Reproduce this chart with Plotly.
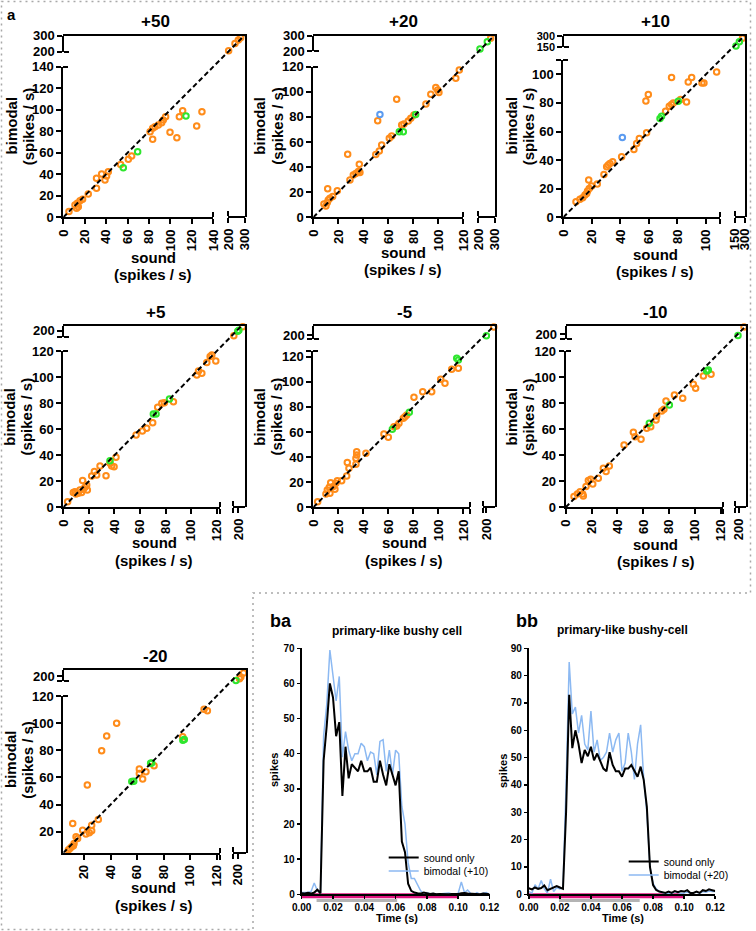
import plotly.graph_objects as go

W, H = 756, 931
FONT = "Liberation Sans, Arial, Helvetica, sans-serif"
ORANGE = "#FF8C1A"
GREEN = "#2EE62E"
BLUE = "#5B9BF0"
LIGHT_BLUE = "#8CB9F2"
MAGENTA = "#E0147F"
GREY_BAR = "#B4B4B4"

# ---------------- data: panel a (sound vs bimodal, spikes / s) ----------------
P50_ORANGE_X = [5.3, 10.9, 13, 15.6, 18, 14, 12.4, 23.3, 31, 31, 35.8, 38.9, 40.4, 42, 53.5, 60.7, 63.8, 81, 83.4,
                85.6, 88.7, 91.8, 93.3, 95.5, 83.4, 99.6, 106, 111.4, 108.3, 124.5, 129.4, 202, 240, 260, 274]
P50_ORANGE_Y = [5.3, 11.5, 13, 15.5, 16.7, 9.9, 8.4, 21.7, 36.2, 27, 40.3, 34.7, 38.4, 42.4, 49, 53.9, 57, 79.6, 82.7,
                84.2, 85.8, 88, 90.4, 93.5, 72.5, 79, 74, 99.1, 93.5, 84.9, 98.2, 206, 252, 273, 287]
P50_GREEN_X = [56, 69.4, 114.5]
P50_GREEN_Y = [46, 61, 94.1]
P50_BLUE_X = []
P50_BLUE_Y = []

P20_ORANGE_X = [8.5, 10.1, 11.2, 12, 13.3, 15.5, 19.2, 11.5, 27.5, 29.3, 32, 34, 36, 37.3, 36.8, 50, 52.8, 54.7, 60.8,
                62.7, 51.5, 66.7, 70.7, 72.5, 76, 78, 80.5, 90.1, 94, 98, 99.5, 100.5, 114, 116.8, 274]
P20_ORANGE_Y = [10.6, 9, 11.7, 13.8, 15.1, 16.5, 21.2, 22.8, 50.2, 29.7, 33.7, 35, 36.4, 35.6, 42.2, 50, 52.8, 57.6,
                62.9, 64.8, 77, 94, 73.5, 74.3, 76.7, 79, 81.5, 90.3, 98, 103.5, 101.4, 99.5, 110.7, 117.3, 283]
P20_GREEN_X = [68.8, 72, 81.9, 210, 254]
P20_GREEN_Y = [68.2, 68.2, 82, 213, 261]
P20_BLUE_X = [53.3]
P20_BLUE_Y = [82]

P10_ORANGE_X = [8.9, 11.7, 13.6, 15.2, 16.4, 17, 18.2, 17.8, 19.9, 23.8, 28.5, 30.4, 31.5, 32.7, 34.6, 40.9, 49.5, 51.4,
                53.3, 58.4, 57.9, 59.6, 71.7, 74.3, 75.9, 77.1, 82.2, 86.4, 75.9, 87.6, 90, 97.2, 98.6, 107.5, 262]
P10_ORANGE_Y = [10.9, 12.6, 13.7, 15.6, 16.7, 18.4, 20.2, 26, 21.9, 23.3, 30, 35.3, 36.5, 37.7, 38.8, 42.3, 47.4, 51.6,
                55.1, 59.1, 81.4, 85.8, 74.2, 77.7, 78.8, 80, 82.3, 80.7, 97.7, 94.7, 97.7, 94, 94, 101.6, 265]
P10_GREEN_X = [67.8, 68.9, 80.6, 165, 215]
P10_GREEN_Y = [69.1, 70.7, 81.2, 158, 218]
P10_BLUE_X = [41.4]
P10_BLUE_Y = [55.8]

P5_ORANGE_X = [3.4, 7.8, 9.1, 9.9, 11.7, 13, 14.3, 15.7, 17, 18.3, 15.1, 18.8, 22.2, 24.3, 26.1, 28.7, 33.4, 36.5,
               37.8, 39.7, 41.2, 56.9, 61.8, 65.2, 69.9, 73.8, 77, 79, 86.1, 104.4, 105.7, 108.3, 112.2, 114.8, 116.1,
               119.2, 192, 208]
P5_ORANGE_Y = [4.3, 11.3, 12, 10.2, 10.7, 13.3, 11.3, 13.8, 15.4, 17.1, 20.5, 13.3, 24, 27.4, 24.8, 31.7, 24.3, 33.8,
               31.7, 31.2, 38.4, 55.5, 58.6, 60.6, 65, 76.8, 79.8, 80.3, 81.1, 101.6, 104.7, 102.9, 111.1, 115.7, 116.9,
               112.3, 190, 208]
P5_GREEN_X = [36.5, 70.4, 72.5, 83, 199, 201]
P5_GREEN_Y = [35.8, 71.6, 71.6, 83.2, 199, 201]
P5_BLUE_X = []
P5_BLUE_Y = []

M5_ORANGE_X = [3.5, 10.1, 11.2, 12.8, 13.9, 13.3, 16, 18.1, 19.2, 17.3, 22.7, 26.7, 27.2, 28.5, 34.1, 34.7, 34.7, 34.1,
               42.1, 56.5, 60, 64.5, 66.7, 68.5, 72, 73.3, 74.7, 80.5, 87.5, 94.7, 101.9, 105.3, 110.7, 116, 206]
M5_ORANGE_Y = [4.5, 10.6, 13.8, 15.9, 19.6, 11.1, 16.5, 19.1, 21.2, 14.3, 21.2, 25, 35.6, 31.1, 34.2, 44.3, 41.7, 39,
               43, 58.4, 55.7, 64.2, 64.8, 66.9, 70.9, 72.2, 73.5, 87.6, 92.1, 92.1, 101.9, 98.8, 109.9, 110.7, 206]
M5_GREEN_X = [63.2, 76.8, 116, 114.7, 200]
M5_GREEN_Y = [62.1, 75.7, 117.3, 118.7, 199.5]
M5_BLUE_X = []
M5_BLUE_Y = []

M10_ORANGE_X = [6.4, 9, 11.1, 13.1, 13.6, 15.7, 17.5, 19.3, 20.9, 25.2, 29.1, 31.2, 33.7, 45.1, 52.3, 53.6, 58.2, 62.6,
                65.7, 69.8, 70.3, 74.2, 75.9, 77.5, 84, 90.4, 98.6, 100.4, 106.4, 112.3, 205]
M10_ORANGE_Y = [8.2, 10.2, 12, 10.2, 8.7, 15.9, 20.5, 21.5, 17.9, 22.3, 29.9, 27.4, 31.7, 47.9, 57.6, 54.2, 52.2, 60.6,
                61.9, 67, 70.1, 73.9, 75.2, 81.6, 86.2, 83.7, 94.4, 91.4, 100.8, 102.1, 206]
M10_GREEN_X = [64.6, 80.1, 108.9, 110.2, 199]
M10_GREEN_Y = [64.5, 78.6, 104.7, 105.4, 199]
M10_BLUE_X = []
M10_BLUE_Y = []

M20_ORANGE_X = [8.2, 9.4, 10.7, 12, 12.5, 14, 15.2, 11.5, 19, 21.5, 24, 25.8, 25.8, 30.8, 22.5, 33.3, 37.1, 44.6, 61.7,
                61.7, 64.2, 66.7, 72.8, 94.4, 110.5, 113, 201.9, 203.1, 205.7]
M20_ORANGE_Y = [6.5, 7.7, 8.9, 9.7, 11.4, 16.3, 15.1, 26.1, 21.2, 18.3, 19.3, 20.7, 24.9, 29.1, 54.4, 79.7, 90.5, 99.9,
                66.2, 63, 58.8, 64.2, 68.6, 90, 110.2, 109.2, 197.3, 199, 203]
M20_GREEN_X = [56, 57.5, 70.2, 71, 95.6, 94.5, 198.5]
M20_GREEN_Y = [57, 57.3, 70.4, 70.6, 88, 87.5, 195.5]
M20_BLUE_X = []
M20_BLUE_Y = []

# tick values
TICKS_LOW_140 = [0, 20, 40, 60, 80, 100, 120, 140]
TICKS_LOW_120 = [0, 20, 40, 60, 80, 100, 120]
TICKS_LOW_100 = [0, 20, 40, 60, 80, 100]
TICKS_LOW_20_120 = [20, 40, 60, 80, 100, 120]
TICKS_HIGH_200_300 = [200, 300]
TICKS_HIGH_150_300 = [150, 300]
TICKS_HIGH_200 = [200]

# ---------------- data: panel b (PSTHs) ----------------
TIME_S = [0.000, 0.002, 0.004, 0.006, 0.008, 0.010, 0.012, 0.014, 0.016, 0.018,
          0.020, 0.022, 0.024, 0.026, 0.028, 0.030, 0.032, 0.034, 0.036, 0.038,
          0.040, 0.042, 0.044, 0.046, 0.048, 0.050, 0.052, 0.054, 0.056, 0.058,
          0.060, 0.062, 0.064, 0.066, 0.068, 0.070, 0.072, 0.074, 0.076, 0.078,
          0.080, 0.082, 0.084, 0.086, 0.088, 0.090, 0.092, 0.094, 0.096, 0.098,
          0.100, 0.102, 0.104, 0.106, 0.108, 0.110, 0.112, 0.114, 0.116, 0.118, 0.120]
BA_SOUND_ONLY = [0.3, 0.2, 0.4, 0.2, 0.5, 1.3, 0.3, 38, 48, 60,
                 56, 45, 49, 28, 42, 33, 37, 36, 35, 38,
                 35, 35, 36, 32, 32, 38, 34, 31, 37, 34,
                 31, 35, 15, 12, 3, 1, 0.5, 0.3, 0.2, 0.5,
                 0.2, 0.1, 0.2, 0, 0.1, 0, 0.1, 0, 0.1, 0,
                 0.1, 0.3, 0.4, 0.2, 0.1, 0, 0.1, 0, 0.2, 0.1, 0]
BA_BIMODAL = [0.5, 0.5, 0.5, 0.8, 3.2, 1, 0.5, 45, 54, 69.5,
              63, 55, 62, 39, 46.3, 41, 38, 40, 40, 43,
              42, 38, 40.5, 40, 34, 43.5, 44, 35, 41, 34,
              41, 40, 25, 20, 9, 4.5, 4.5, 2.5, 1, 0.3,
              0.5, 0.1, 0.2, 0, 0.1, 0, 0.2, 0.4, 0.1, 0,
              0.3, 3.5, 0.5, 1.2, 0.2, 0, 0.5, 0, 0.3, 0.5, 0]
BB_SOUND_ONLY = [2.2, 1.8, 2.5, 2.0, 2.3, 3.2, 1.5, 2.0, 2.5, 3.0,
                 2.5, 2.0, 30, 73, 53.5, 60, 55, 48, 52.8, 50.5,
                 54, 49, 51.5, 49, 46, 45, 52, 47.3, 45, 45,
                 43, 46, 46, 47.3, 45, 43, 46.7, 41.8, 32, 10,
                 3.4, 1.6, 1, 0.8, 0.5, 1, 0.5, 1.2, 0.8, 1.2,
                 1, 1.5, 0.5, 0.5, 1, 0.5, 1.5, 1.2, 1.8, 1.5, 1.2]
BB_BIMODAL = [1, 0.5, 3.5, 2, 5, 2, 0.5, 5.5, 1, 2.5,
              2, 2.5, 40, 85, 66, 68.5, 59, 65.5, 55, 52.8,
              67, 52, 56.5, 49, 50, 52, 59, 52, 56.5, 59,
              45, 48, 59, 52, 42, 55, 62, 42, 30, 10,
              4, 2, 1, 0.5, 0.3, 0.5, 0.2, 1, 0.5, 0.3,
              0.5, 0.8, 0.3, 0.5, 0.8, 0.3, 1, 0.8, 1.2, 1, 1]
BA_SOUND_STIM = [0.0, 0.10]
BA_VISUAL_STIM = [0.0095, 0.061]
BB_SOUND_STIM = [0.0, 0.10]
BB_VISUAL_STIM = [0.0194, 0.0714]
TIME_TICKS = [0.00, 0.02, 0.04, 0.06, 0.08, 0.10, 0.12]
BA_Y_TICKS = [0, 10, 20, 30, 40, 50, 60, 70]
BB_Y_TICKS = [0, 10, 20, 30, 40, 50, 60, 70, 80, 90]


def px(x):
    return x / W


def py(y):
    return 1 - y / H


fig = go.Figure()
layout = dict(width=W, height=H, autosize=False, margin=dict(l=0, r=0, t=0, b=0),
              paper_bgcolor="white", plot_bgcolor="rgba(0,0,0,0)", showlegend=True, hovermode=False)
annotations = []
shapes = []
counter = [0]


def new_ids():
    counter[0] += 1
    n = counter[0]
    s = "" if n == 1 else str(n)
    return "xaxis" + s, "yaxis" + s, "x" + s, "y" + s


def bold(size):
    return dict(family=FONT, size=size, color="black", weight="bold")


def axis(**kw):
    d = dict(showgrid=False, zeroline=False, showline=True, linecolor="black", linewidth=2,
             ticks="outside", ticklen=5, tickwidth=2, tickcolor="black",
             tickfont=bold(13), automargin=False, fixedrange=True)
    d.update(kw)
    return d


def label(t, x, y, size, angle=0, weight="bold"):
    annotations.append(dict(text=t, x=px(x), y=py(y), xref="paper", yref="paper", showarrow=False,
                            xanchor="center", yanchor="middle", textangle=angle,
                            font=dict(family=FONT, size=size, color="black", weight=weight)))


def tick_arrays(ticks, extra):
    vals = list(ticks)
    text = [str(v) for v in ticks]
    if extra not in vals:
        vals.append(extra)
        text.append("")
    return vals, text


PANELS = [
    dict(title="+50", pos=(155, 21.7), data=(P50_ORANGE_X, P50_ORANGE_Y, P50_GREEN_X, P50_GREEN_Y, P50_BLUE_X, P50_BLUE_Y),
         L=63.3, R=245, T=35.7, B=217.3, XLe=213.3, XHs=228.3, YLe=66.7, YHs=51.7,
         xlo=(0, 140), xhi=(200, 300), ylo=(0, 140), yhi=(200, 300),
         xlt=TICKS_LOW_140, xht=TICKS_HIGH_200_300, ylt=TICKS_LOW_140, yht=TICKS_HIGH_200_300, yhfont=13,
         xtitle=((153.7, 257.3), (152.7, 274)), ytitle=((11.7, 125.7), (28.3, 126))),
    dict(title="+20", pos=(403.3, 21.7), data=(P20_ORANGE_X, P20_ORANGE_Y, P20_GREEN_X, P20_GREEN_Y, P20_BLUE_X, P20_BLUE_Y),
         L=313.3, R=495, T=35.7, B=217.3, XLe=463.3, XHs=478.3, YLe=66.7, YHs=51,
         xlo=(0, 120), xhi=(200, 300), ylo=(0, 120), yhi=(200, 300),
         xlt=TICKS_LOW_120, xht=TICKS_HIGH_200_300, ylt=TICKS_LOW_120, yht=TICKS_HIGH_200_300, yhfont=13,
         xtitle=((403.3, 252.5), (403, 270)), ytitle=((260, 125.7), (276.7, 126))),
    dict(title="+10", pos=(655, 21.7), data=(P10_ORANGE_X, P10_ORANGE_Y, P10_GREEN_X, P10_GREEN_Y, P10_BLUE_X, P10_BLUE_Y),
         L=563.3, R=745, T=35.7, B=217.3, XLe=720.2, XHs=735, YLe=60, YHs=46.7,
         xlo=(0, 110), xhi=(150, 300), ylo=(0, 110), yhi=(150, 300),
         xlt=TICKS_LOW_100, xht=TICKS_HIGH_150_300, ylt=TICKS_LOW_100, yht=TICKS_HIGH_150_300, yhfont=11,
         xtitle=((655, 254), (655.3, 271.7)), ytitle=((511.7, 125.7), (528.3, 126))),
    dict(title="+5", pos=(155, 312.3), data=(P5_ORANGE_X, P5_ORANGE_Y, P5_GREEN_X, P5_GREEN_Y, P5_BLUE_X, P5_BLUE_Y),
         L=63.3, R=245, T=325.7, B=507.3, XLe=220, XHs=232.7, YLe=351, YHs=336.7,
         xlo=(0, 122.5), xhi=(190, 212), ylo=(0, 120), yhi=(188, 210),
         xlt=TICKS_LOW_120, xht=TICKS_HIGH_200, ylt=TICKS_LOW_120, yht=TICKS_HIGH_200, yhfont=13,
         xtitle=((154, 542.5), (154, 560)), ytitle=((10, 416.7), (26.7, 416.7))),
    dict(title="-5", pos=(404, 312.3), data=(M5_ORANGE_X, M5_ORANGE_Y, M5_GREEN_X, M5_GREEN_Y, M5_BLUE_X, M5_BLUE_Y),
         L=313.3, R=495, T=325.7, B=507.3, XLe=469.6, XHs=482.7, YLe=351, YHs=339,
         xlo=(0, 125), xhi=(197, 207), ylo=(0, 124.5), yhi=(197, 207),
         xlt=TICKS_LOW_120, xht=TICKS_HIGH_200, ylt=TICKS_LOW_120, yht=TICKS_HIGH_200, yhfont=13,
         xtitle=((404, 542.5), (404, 560)), ytitle=((260, 416.7), (276.7, 416.7))),
    dict(title="-10", pos=(655.7, 312.3), data=(M10_ORANGE_X, M10_ORANGE_Y, M10_GREEN_X, M10_GREEN_Y, M10_BLUE_X, M10_BLUE_Y),
         L=565.7, R=746, T=325.7, B=507.3, XLe=722.7, XHs=735, YLe=351, YHs=339.3,
         xlo=(0, 121.3), xhi=(196, 207), ylo=(0, 120), yhi=(196, 207),
         xlt=TICKS_LOW_120, xht=TICKS_HIGH_200, ylt=TICKS_LOW_120, yht=TICKS_HIGH_200, yhfont=13,
         xtitle=((655.8, 544), (655.8, 561.7)), ytitle=((511.7, 416.7), (528.3, 416.7))),
    dict(title="-20", pos=(155, 656.7), data=(M20_ORANGE_X, M20_ORANGE_Y, M20_GREEN_X, M20_GREEN_Y, M20_BLUE_X, M20_BLUE_Y),
         L=63.3, R=246, T=670, B=852.7, XLe=220, XHs=233.3, YLe=696, YHs=681,
         xlo=(4.4, 122.5), xhi=(196, 208), ylo=(4.6, 120), yhi=(195, 206),
         xlt=TICKS_LOW_20_120, xht=TICKS_HIGH_200, ylt=TICKS_LOW_20_120, yht=TICKS_HIGH_200, yhfont=13,
         xtitle=((153.7, 887.5), (153.7, 905)), ytitle=((10, 759), (26.7, 760))),
]


def marker(color):
    return dict(symbol="circle-open", size=5.5, color=color, line=dict(width=2, color=color))


for p in PANELS:
    L, R, T, B = p["L"], p["R"], p["T"], p["B"]
    xl0, xl1 = p["xlo"]
    xh0, xh1 = p["xhi"]
    yl0, yl1 = p["ylo"]
    yh0, yh1 = p["yhi"]
    ox, oy, gx, gy, bx, by = p["data"]

    # lower-left block (main)
    xa, ya, xid, yid = new_ids()
    xv, xt = tick_arrays(p["xlt"], xl1)
    yv, yt = tick_arrays(p["ylt"], yl1)
    epsx = (xl1 - xl0) * 1e-4
    epsy = (yl1 - yl0) * 1e-4
    layout[xa] = axis(domain=[px(L), px(p["XLe"])], range=[xl0, xl1], anchor=yid,
                      tickmode="array", tickvals=xv, ticktext=xt, tickangle=-90,
                      minor=dict(tickmode="array", tickvals=[xl1 - epsx], ticks="inside", ticklen=5,
                                 tickwidth=2, tickcolor="black"))
    layout[ya] = axis(domain=[py(B), py(p["YLe"])], range=[yl0, yl1], anchor=xid,
                      tickmode="array", tickvals=yv, ticktext=yt,
                      minor=dict(tickmode="array", tickvals=[yl1 - epsy], ticks="inside", ticklen=5,
                                 tickwidth=2, tickcolor="black"))
    high_sets = []
    for xs, ys, col in ((ox, oy, ORANGE), (gx, gy, GREEN), (bx, by, BLUE)):
        lx = [x for x, y in zip(xs, ys) if x <= xl1 and y <= yl1]
        ly = [y for x, y in zip(xs, ys) if x <= xl1 and y <= yl1]
        hx = [x for x, y in zip(xs, ys) if x >= xh0 and y >= yh0]
        hy = [y for x, y in zip(xs, ys) if x >= xh0 and y >= yh0]
        if lx:
            fig.add_trace(go.Scatter(x=lx, y=ly, mode="markers", marker=marker(col), cliponaxis=False,
                                     showlegend=False, xaxis=xid, yaxis=yid))
        if hx:
            high_sets.append((hx, hy, col))

    # upper-right block (broken-axis part)
    xa2, ya2, xid2, yid2 = new_ids()
    xv2, xt2 = tick_arrays(p["xht"], xh0)
    yv2, yt2 = tick_arrays(p["yht"], yh0)
    epsx2 = (xh1 - xh0) * 1e-4
    epsy2 = (yh1 - yh0) * 1e-4
    layout[xa2] = axis(domain=[px(p["XHs"]), px(R)], range=[xh0, xh1], anchor="free", position=py(B),
                       tickmode="array", tickvals=xv2, ticktext=xt2, tickangle=-90,
                       minor=dict(tickmode="array", tickvals=[xh0 + epsx2], ticks="inside", ticklen=5,
                                  tickwidth=2, tickcolor="black"))
    layout[ya2] = axis(domain=[py(p["YHs"]), py(T)], range=[yh0, yh1], anchor="free", position=px(L),
                       tickmode="array", tickvals=yv2, ticktext=yt2, tickfont=bold(p["yhfont"]),
                       minor=dict(tickmode="array", tickvals=[yh0 + epsy2], ticks="inside", ticklen=5,
                                  tickwidth=2, tickcolor="black"))
    for hx, hy, col in high_sets:
        fig.add_trace(go.Scatter(x=hx, y=hy, mode="markers", marker=marker(col), cliponaxis=False,
                                 showlegend=False, xaxis=xid2, yaxis=yid2))

    # frame (top + right lines) and identity line spanning the whole panel
    xa3, ya3, xid3, yid3 = new_ids()
    fx1 = xl0 + (xl1 - xl0) * (R - L) / (p["XLe"] - L)
    fy1 = yl0 + (yl1 - yl0) * (B - T) / (B - p["YLe"])
    layout[xa3] = dict(domain=[px(L), px(R)], range=[xl0, fx1], anchor=yid3, side="top", showline=True,
                       linecolor="black", linewidth=2, ticks="", showticklabels=False, showgrid=False,
                       zeroline=False, fixedrange=True)
    layout[ya3] = dict(domain=[py(B), py(T)], range=[yl0, fy1], anchor=xid3, side="right", showline=True,
                       linecolor="black", linewidth=2, ticks="", showticklabels=False, showgrid=False,
                       zeroline=False, fixedrange=True)
    lo = min(xl0, yl0)
    hi = max(fx1, fy1)
    fig.add_trace(go.Scatter(x=[lo, hi], y=[lo, hi], mode="lines",
                             line=dict(color="black", width=2, dash="5px,3px"),
                             showlegend=False, xaxis=xid3, yaxis=yid3))

    # text
    label(p["title"], p["pos"][0], p["pos"][1], 17)
    label("sound", p["xtitle"][0][0], p["xtitle"][0][1], 15)
    label("(spikes / s)", p["xtitle"][1][0], p["xtitle"][1][1], 15)
    label("bimodal", p["ytitle"][0][0], p["ytitle"][0][1], 15, angle=-90)
    label("(spikes / s)", p["ytitle"][1][0], p["ytitle"][1][1], 15, angle=-90)

label("a", 11.7, 14, 15)

# ---------------- panel b ----------------
B_PANELS = [
    dict(tag="ba", tagpos=(281, 620.8), title="primary-like bushy cell", tpos=(396.7, 630.5),
         L=301.7, R=489.5, T=648.3, B=894.3, ymax=70, yticks=BA_Y_TICKS,
         sound=BA_SOUND_ONLY, bimodal=BA_BIMODAL, bname="bimodal (+10)",
         stim_s=BA_SOUND_STIM, stim_v=BA_VISUAL_STIM, spikes=(274, 770), time=(396.7, 918),
         legs=(("legend", 383.7, 857.5), ("legend2", 383.7, 871))),
    dict(tag="bb", tagpos=(527, 620.8), title="primary-like bushy-cell", tpos=(622.5, 629.5),
         L=528.8, R=715.2, T=648.3, B=894.3, ymax=90, yticks=BB_Y_TICKS,
         sound=BB_SOUND_ONLY, bimodal=BB_BIMODAL, bname="bimodal (+20)",
         stim_s=BB_SOUND_STIM, stim_v=BB_VISUAL_STIM, spikes=(503, 771), time=(622.5, 918),
         legs=(("legend3", 623.7, 861.5), ("legend4", 623.7, 875))),
]

for b in B_PANELS:
    xa, ya, xid, yid = new_ids()
    layout[xa] = axis(domain=[px(b["L"]), px(b["R"])], range=[0, 0.12], anchor=yid,
                      tickmode="array", tickvals=TIME_TICKS, ticktext=["%.2f" % v for v in TIME_TICKS],
                      ticklen=3, tickwidth=1.5, tickfont=bold(10), linewidth=2)
    layout[ya] = axis(domain=[py(b["B"]), py(b["T"])], range=[0, b["ymax"]], anchor=xid,
                      tickmode="array", tickvals=b["yticks"], ticktext=[str(v) for v in b["yticks"]],
                      ticklen=3, tickwidth=1.5, tickfont=bold(10), linewidth=2)
    (l1, lx1, ly1), (l2, lx2, ly2) = b["legs"]
    fig.add_trace(go.Scatter(x=TIME_S, y=b["bimodal"], mode="lines", name=b["bname"],
                             line=dict(color=LIGHT_BLUE, width=1.5), xaxis=xid, yaxis=yid, legend=l2))
    fig.add_trace(go.Scatter(x=TIME_S, y=b["sound"], mode="lines", name="sound only",
                             line=dict(color="black", width=2), xaxis=xid, yaxis=yid, legend=l1))
    for name, lx, ly in b["legs"]:
        layout[name] = dict(x=px(lx), y=py(ly), xanchor="left", yanchor="middle", bgcolor="rgba(0,0,0,0)",
                            borderwidth=0, itemwidth=30, tracegroupgap=0,
                            font=dict(family=FONT, size=10.5, color="black"))
    shapes.append(dict(type="rect", xref=xid, yref="paper", x0=b["stim_s"][0], x1=b["stim_s"][1],
                       y0=py(898.3), y1=py(893.3), fillcolor=MAGENTA, line=dict(width=0), layer="below"))
    shapes.append(dict(type="rect", xref=xid, yref="paper", x0=b["stim_v"][0], x1=b["stim_v"][1],
                       y0=py(902), y1=py(899), fillcolor=GREY_BAR, line=dict(width=0), layer="below"))
    label(b["tag"], b["tagpos"][0], b["tagpos"][1], 18)
    label(b["title"], b["tpos"][0], b["tpos"][1], 12)
    label("spikes", b["spikes"][0], b["spikes"][1], 11, angle=-90)
    label("Time (s)", b["time"][0], b["time"][1], 11)

# dotted panel borders
border = [(1.5, 1.5), (750.5, 1.5), (750.5, 593), (253, 593), (253, 929.5), (1.5, 929.5)]
path = "M " + " L ".join("%.5f,%.5f" % (px(x), py(y)) for x, y in border) + " Z"
shapes.append(dict(type="path", xref="paper", yref="paper", path=path,
                   line=dict(color="#A8A8A8", width=1.5, dash="2px,4px"), layer="above"))

layout["annotations"] = annotations
layout["shapes"] = shapes
fig.update_layout(**layout)
fig.write_html("out.html",
               config={"displayModeBar": False, "staticPlot": True},
               post_script="document.body.style.margin='0';document.body.style.overflow='hidden';"
                           "document.documentElement.style.overflow='hidden';")
